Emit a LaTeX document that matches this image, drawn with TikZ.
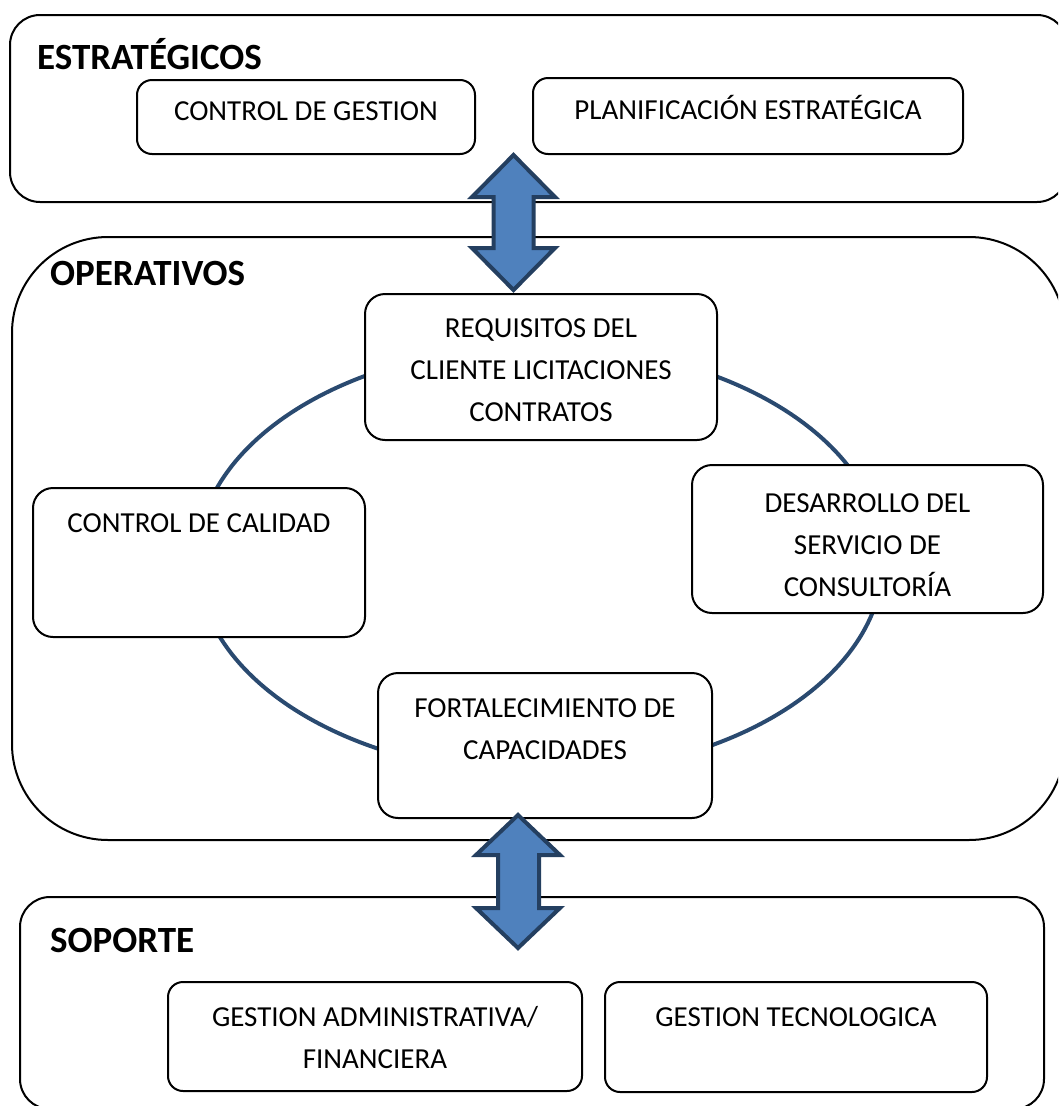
\documentclass[tikz,border=0pt]{standalone}
\usepackage{fontspec}
\setmainfont{Carlito}
\definecolor{ringblue}{HTML}{2A4A70}
\definecolor{arrowfill}{HTML}{4F81BD}
\definecolor{arrowedge}{HTML}{243F60}
\begin{document}
\begin{tikzpicture}[x=1pt,y=-1pt,
  bigbox/.style={draw=black, line width=2pt, inner sep=0pt, rectangle},
  smallbox/.style={draw=black, line width=2pt, fill=white, inner sep=0pt, rectangle, rounded corners=15pt},
  txt/.style={inner sep=0pt, anchor=north, align=center, font=\fontsize{29}{42}\selectfont},
  onetxt/.style={inner sep=0pt, anchor=base, font=\fontsize{29}{42}\selectfont},
  title/.style={inner sep=0pt, anchor=base west, font=\fontsize{37}{44}\selectfont\bfseries},
  blockarrow/.style={fill=arrowfill, draw=arrowedge, line width=4pt, line join=miter}]
\useasboundingbox (0,0) rectangle (1058,1106);
\clip (0,0) rectangle (1058,1106);
% group boxes
\node[bigbox, rounded corners=30pt, minimum width=1057pt, minimum height=187pt] (estr) at (538.5,108.5) {};
\node[bigbox, rounded corners=96pt, minimum width=1053pt, minimum height=603pt] (oper) at (538.5,538.5) {};
\node[bigbox, rounded corners=30pt, minimum width=1024pt, minimum height=212pt] (sop) at (532,1003) {};
% cycle
\draw[ringblue, line width=4pt] (540,560) ellipse [x radius=343pt, y radius=214pt];
% inner boxes
\node[smallbox, minimum width=338pt, minimum height=74pt] (gest) at (306,117) {};
\node[smallbox, minimum width=430pt, minimum height=76pt] (plan) at (748,116) {};
\node[smallbox, rounded corners=20pt, minimum width=352pt, minimum height=146pt] (req) at (541,367) {};
\node[smallbox, rounded corners=20pt, minimum width=332pt, minimum height=149pt] (cal) at (199,562.5) {};
\node[smallbox, rounded corners=20pt, minimum width=351pt, minimum height=148pt] (des) at (867.5,539) {};
\node[smallbox, rounded corners=20pt, minimum width=334pt, minimum height=145pt] (fort) at (545,745.5) {};
\node[smallbox, minimum width=414pt, minimum height=109pt] (adm) at (375,1036.5) {};
\node[smallbox, minimum width=382pt, minimum height=110pt] (tec) at (796,1037) {};
% titles
\node[title] (testr) at (37,69.4) {ESTRATÉGICOS};
\node[title] (toper) at (50,285) {OPERATIVOS};
\node[title] (tsop) at (50,952) {SOPORTE};
% texts
\node[onetxt] (xgest) at (306,120.4) {CONTROL DE GESTION};
\node[onetxt] (xplan) at (748,119.4) {PLANIFICACIÓN ESTRATÉGICA};
\node[txt] (xreq) at (541,312.3) {\rule{0pt}{25pt}REQUISITOS DEL\\CLIENTE LICITACIONES\\CONTRATOS};
\node[onetxt] (xcal) at (199,532.4) {CONTROL DE CALIDAD};
\node[txt] (xdes) at (867.5,487.3) {\rule{0pt}{25pt}DESARROLLO DEL\\SERVICIO DE\\CONSULTORÍA};
\node[txt] (xfort) at (545,692.3) {\rule{0pt}{25pt}FORTALECIMIENTO DE\\CAPACIDADES};
\node[txt] (xadm) at (375,1001.3) {\rule{0pt}{25pt}GESTION ADMINISTRATIVA/\\FINANCIERA};
\node[onetxt] (xtec) at (796,1026.4) {GESTION TECNOLOGICA};
% block arrows
\draw[blockarrow] (513.5,155) -- (555,197) -- (533.5,197) -- (533.5,248) -- (555,248) -- (513.5,290)
  -- (472,248) -- (493.5,248) -- (493.5,197) -- (472,197) -- cycle;
\draw[blockarrow] (518,815) -- (560,855) -- (539,855) -- (539,908) -- (560,908) -- (518,948)
  -- (476,908) -- (498,908) -- (498,855) -- (476,855) -- cycle;
\end{tikzpicture}
\end{document}
